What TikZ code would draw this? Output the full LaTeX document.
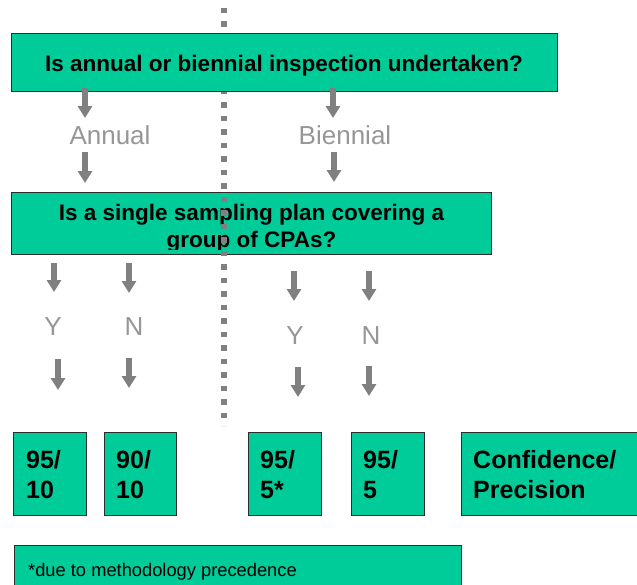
\documentclass[tikz,border=0pt]{standalone}
\usepackage{fontspec}
\setmainfont{Liberation Sans}
\usetikzlibrary{arrows.meta}
\definecolor{boxgreen}{RGB}{0,204,153}
\definecolor{boxline}{RGB}{45,45,45}
\definecolor{arrowgray}{RGB}{128,128,128}
\definecolor{labelgray}{RGB}{150,150,150}
\definecolor{dotgray}{RGB}{128,128,128}

\begin{document}
\begin{tikzpicture}[x=1pt,y=-1pt,
  greenbox/.style={fill=boxgreen,draw=boxline,line width=1.3pt,inner sep=0pt,anchor=north west},
  flowarrow/.style={draw=arrowgray,line width=6pt,-{Triangle[width=14pt,length=12pt,fill=arrowgray]}},
  qtext/.style={font=\fontsize{22.5}{26}\selectfont\bfseries,inner sep=0pt,anchor=base},
  ratio/.style={font=\fontsize{25}{29}\selectfont\bfseries,inner sep=0pt,anchor=base west},
  branch/.style={font=\fontsize{26}{30}\selectfont,text=labelgray,inner sep=0pt,anchor=base},
  note/.style={font=\fontsize{18.3}{22}\selectfont,inner sep=0pt,anchor=base west},
  divider/.style={draw=dotgray,line width=5.5pt,dash pattern=on 5.5pt off 8pt}
]
\useasboundingbox (0,0) rectangle (637,584);

% second question box sits beneath the divider
\node[greenbox,minimum width=480pt,minimum height=62pt] (q2) at (11,192) {};
\node[qtext] (q2a) at (251.5,220) {Is a single sampling plan covering a};
\begin{scope}
  \clip (11,192) rectangle (492,249);
  \node[qtext] (q2b) at (251.5,247) {group of CPAs?};
\end{scope}

% dotted divider between annual and biennial branches
\coordinate (divtop) at (224,7.5);
\coordinate (divbot) at (224,426);
\draw[divider] (divtop) -- (divbot);

% first question box covers the divider
\node[greenbox,minimum width=546pt,minimum height=58pt] (q1) at (11,33) {};
\node[qtext] (q1t) at (284,71) {Is annual or biennial inspection undertaken?};

% branch labels
\node[branch] (annual) at (110,144) {Annual};
\node[branch] (biennial) at (345,144) {Biennial};
\node[branch] (ya) at (53,335) {Y};
\node[branch] (na) at (134,335) {N};
\node[branch] (yb) at (295,344) {Y};
\node[branch] (nb) at (371,344) {N};

% flow arrows
\foreach \n/\x/\ya/\yb in {
  a1/85/88/118, a2/85/152/183,
  b1/333/88/118, b2/334/152/182,
  c1/54/263/292, c2/129/263/293, c3/58/359/390, c4/129/358/388,
  d1/294/271/301, d2/369/271/301, d3/298/367/397, d4/369/366/396}
{
  \coordinate (\n s) at (\x,\ya);
  \coordinate (\n e) at (\x,\yb);
  \draw[flowarrow] (\n s) -- (\n e);
}

% outcome boxes
\node[greenbox,minimum width=73pt,minimum height=83pt] (r1) at (13,432) {};
\node[greenbox,minimum width=72pt,minimum height=83pt] (r2) at (104,432) {};
\node[greenbox,minimum width=73pt,minimum height=83pt] (r3) at (248,432) {};
\node[greenbox,minimum width=73pt,minimum height=83pt] (r4) at (351,432) {};
\node[greenbox,minimum width=190pt,minimum height=83pt] (r5) at (461,432) {};

\node[ratio] (r1a) at (26,468) {95/};
\node[ratio] (r1b) at (26,498) {10};
\node[ratio] (r2a) at (116,468) {90/};
\node[ratio] (r2b) at (116,498) {10};
\node[ratio] (r3a) at (260,468) {95/};
\node[ratio] (r3b) at (260,498) {5*};
\node[ratio] (r4a) at (363,468) {95/};
\node[ratio] (r4b) at (363,498) {5};
\node[ratio] (r5a) at (473,468) {Confidence/};
\node[ratio] (r5b) at (473,498) {Precision};

% footnote
\node[greenbox,minimum width=447pt,minimum height=50pt] (fn) at (14,545) {};
\node[note] (fnt) at (28,576) {*due to methodology precedence};
\end{tikzpicture}
\end{document}
